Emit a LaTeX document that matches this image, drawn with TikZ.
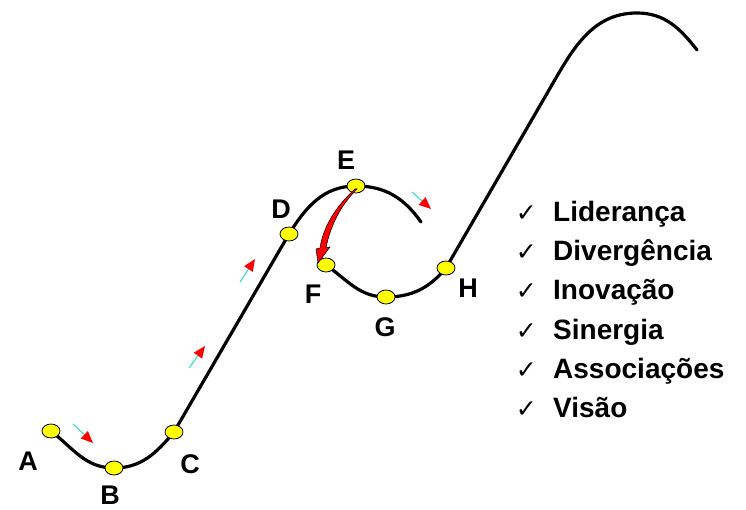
\documentclass[tikz,border=0pt]{standalone}
\usepackage{fontspec}
\setmainfont{Liberation Sans}
\newfontfamily\symfont{DejaVu Sans}
\usetikzlibrary{arrows.meta,positioning,shapes.geometric,backgrounds}
\definecolor{dotyellow}{RGB}{255,255,0}
\definecolor{flowcyan}{RGB}{64,224,200}
\definecolor{flowred}{RGB}{255,0,0}
\tikzset{
  dotnode/.style={ellipse, draw=black, line width=0.8pt, fill=dotyellow,
    minimum width=18pt, minimum height=14pt, inner sep=0pt},
  ptlabel/.style={font=\fontsize{27}{30}\selectfont\bfseries},
  trackln/.style={line width=3.2pt, line cap=round, line join=round},
  flowln/.style={-{Triangle[length=12pt,width=10pt,color=flowred]},
    draw=flowcyan, line width=1.2pt},
  itemtext/.style={font=\fontsize{28}{32}\selectfont\bfseries, inner sep=0pt},
  checktext/.style={font=\symfont\fontsize{25}{28}\selectfont, inner sep=0pt},
}

\begin{document}
\begin{tikzpicture}[x=1pt,y=1pt]
  \useasboundingbox (0,0) rectangle (746,509);
  % points on the path
  \node[dotnode] (A) at (51,78) {};
  \node[dotnode] (B) at (114,41) {};
  \node[dotnode] (C) at (174,77) {};
  \node[dotnode] (D) at (289,275) {};
  \node[dotnode] (E) at (356,323) {};
  \node[dotnode] (F) at (326,244) {};
  \node[dotnode] (G) at (386,212) {};
  \node[dotnode] (H) at (446,241) {};
  \coordinate (loopend) at (421,287);
  \coordinate (riseend) at (549,419);
  \coordinate (peak) at (637,496);
  \coordinate (peakend) at (697,459);
  % labels
  \node[ptlabel] at (28,48) {A};
  \node[ptlabel] at (110,14) {B};
  \node[ptlabel] at (190,45) {C};
  \node[ptlabel] at (281,300) {D};
  \node[ptlabel] at (346,349) {E};
  \node[ptlabel] at (313,215) {F};
  \node[ptlabel] at (385,182) {G};
  \node[ptlabel] at (468,221) {H};
  % the track
  \begin{scope}[on background layer]
    \draw[trackln] (A.center) to[out=-38,in=180] (B.center)
      to[out=0,in=230] (C.center) -- (D.center)
      to[out=58,in=180] (E.center) to[out=0,in=125] (loopend);
    \draw[trackln] (F.center) to[out=-35,in=180] (G.center)
      to[out=0,in=230] (H.center) -- (riseend)
      to[out=60,in=180] (peak) to[out=0,in=128] (peakend);
  \end{scope}
  % direction marks
  \draw[flowln] (73,85) -- (93,66);
  \draw[flowln] (189,141) -- (205,163);
  \draw[flowln] (240,227) -- (255,250);
  \draw[flowln] (412,317) -- (431,300);
  % jump from E back to F
  \filldraw[fill=flowred, draw=black, line width=0.5pt]
    (355,320) .. controls (336,303) and (323,282) .. (320,261)
    -- (316,260) -- (318,246) -- (330,262) -- (326,261)
    .. controls (330,282) and (340,303) .. (357,320) -- cycle;
  % list
  \foreach \word [count=\i] in {Liderança,Divergência,Inovação,Sinergia,Associações,Visão}{
    \node[itemtext, anchor=base west] (item\i) at (553,{287-39*(\i-1)}) {\word};
    \node[checktext, anchor=base east] (check\i) at ([xshift=-16pt]item\i.base west) {✓};
  }
\end{tikzpicture}
\end{document}
